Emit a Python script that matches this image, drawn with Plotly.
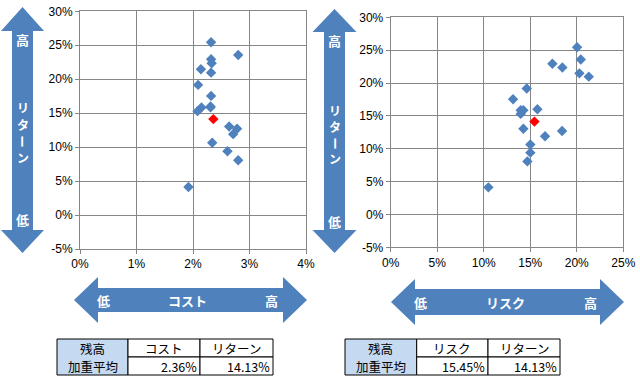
import plotly.graph_objects as go

# ---- data (percent) ----
returns = [25.44, 23.57, 22.94, 22.35, 21.47, 20.97, 19.16, 17.54, 16.00, 15.85,
           15.85, 15.30, 13.03, 12.70, 11.91, 10.65, 9.40, 8.07, 4.12]
costs = [2.32, 2.80, 2.32, 2.33, 2.14, 2.32, 2.09, 2.32, 2.31, 2.15,
         2.31, 2.08, 2.64, 2.78, 2.71, 2.34, 2.61, 2.80, 1.92]
risks = [20.03, 20.43, 17.38, 18.45, 20.28, 21.29, 14.62, 13.15, 15.77, 14.26,
         13.97, 13.97, 14.26, 18.42, 16.59, 15.01, 15.01, 14.69, 10.50]
avg_cost = 2.36
avg_risk = 15.45
avg_return = 14.13

cost_ticks = [0, 1, 2, 3, 4]
risk_ticks = [0, 5, 10, 15, 20, 25]
return_ticks = [-5, 0, 5, 10, 15, 20, 25, 30]

W, H = 640, 381
BLUE = "#4F81BD"
GRID = "#868686"
FONT = "Noto Sans CJK JP"


def P(x, y):
    return x / W, 1 - y / H


def path_from(pts):
    s = ""
    for i, (x, y) in enumerate(pts):
        px, py = P(x, y)
        s += ("M" if i == 0 else "L") + f"{px:.5f},{py:.5f} "
    return s + "Z"


def varrow(cx, t, hb1, hb2, b, sw, hw):
    return path_from([(cx, t), (cx + hw, hb1), (cx + sw, hb1), (cx + sw, hb2), (cx + hw, hb2),
                      (cx, b), (cx - hw, hb2), (cx - sw, hb2), (cx - sw, hb1), (cx - hw, hb1)])


def harrow(cy, l, hb1, hb2, r, sw, hw):
    return path_from([(l, cy), (hb1, cy - hw), (hb1, cy - sw), (hb2, cy - sw), (hb2, cy - hw),
                      (r, cy), (hb2, cy + hw), (hb2, cy + sw), (hb1, cy + sw), (hb1, cy + hw)])


fig = go.Figure()
fig.add_trace(go.Scatter(x=costs, y=returns, mode="markers", xaxis="x", yaxis="y",
                         marker=dict(symbol="diamond", size=8, color=BLUE), showlegend=False))
fig.add_trace(go.Scatter(x=[avg_cost], y=[avg_return], mode="markers", xaxis="x", yaxis="y",
                         marker=dict(symbol="diamond", size=8, color="#FF0000"), showlegend=False))
fig.add_trace(go.Scatter(x=risks, y=returns, mode="markers", xaxis="x2", yaxis="y2",
                         marker=dict(symbol="diamond", size=8, color=BLUE), showlegend=False))
fig.add_trace(go.Scatter(x=[avg_risk], y=[avg_return], mode="markers", xaxis="x2", yaxis="y2",
                         marker=dict(symbol="diamond", size=8, color="#FF0000"), showlegend=False))

axcommon = dict(showgrid=True, gridcolor=GRID, gridwidth=1, showline=True, linecolor=GRID,
                linewidth=1, mirror=True, zeroline=False, ticks="outside", ticklen=4,
                tickcolor=GRID, tickmode="array", automargin=False,
                tickfont=dict(family="Liberation Sans", size=12, color="#000"))


def pct(ticks):
    return [f"{t}%" for t in ticks]


fig.update_layout(
    width=W, height=H, autosize=False,
    margin=dict(l=0, r=0, t=0, b=0),
    paper_bgcolor="white", plot_bgcolor="white",
    xaxis=dict(domain=[80 / W, 306 / W], range=[0, 4], tickvals=cost_ticks,
               ticktext=pct(cost_ticks), anchor="y", **axcommon),
    yaxis=dict(domain=[1 - 249 / H, 1 - 11.3 / H], range=[-5, 30], tickvals=return_ticks,
               ticktext=pct(return_ticks), anchor="x", **axcommon),
    xaxis2=dict(domain=[390.7 / W, 623.3 / W], range=[0, 25], tickvals=risk_ticks,
                ticktext=pct(risk_ticks), anchor="y2", **axcommon),
    yaxis2=dict(domain=[1 - 247.3 / H, 1 - 17.3 / H], range=[-5, 30], tickvals=return_ticks,
                ticktext=pct(return_ticks), anchor="x2", **axcommon),
)

shapes = []
for pth in [varrow(22.5, 7, 31, 230, 253, 10.5, 21.5),
            varrow(334.5, 9, 32, 230, 253, 10.5, 22),
            harrow(300, 74, 98, 283, 307, 12, 23),
            harrow(302, 391, 415, 600, 624, 13, 23)]:
    shapes.append(dict(type="path", path=pth, xref="paper", yref="paper",
                       fillcolor=BLUE, line=dict(width=0), layer="below"))

annotations = []


def txt(x, y, s, size=13, color="white", bold=True, xanchor="center", angle=0, pad=1):
    px, py = P(x, y)
    annotations.append(dict(x=px, y=py, xref="paper", yref="paper", text=(f"<b>{s}</b>" if bold else s),
                            showarrow=False, xanchor=xanchor, yanchor="middle", textangle=angle,
                            borderpad=pad, font=dict(family=FONT, size=size, color=color)))


# vertical arrow labels
for cx, dy in [(22.5, 0), (334.5, 2)]:
    txt(cx, 39 + dy, "高")
    txt(cx, 108 + dy, "リ", size=12, pad=0)
    txt(cx, 124.5 + dy, "タ", size=12, pad=0)
    txt(cx, 141 + dy, "ー", size=12, pad=0, angle=90)
    txt(cx, 157 + dy, "ン", size=12, pad=0)
    txt(cx, 219 + dy, "低")

# horizontal arrow labels
txt(103, 300, "低")
txt(187, 300, "コスト")
txt(271, 300, "高")
txt(420, 302, "低")
txt(505, 302, "リスク")
txt(590, 302, "高")


def table(x0, x1, x2, x3, head1, head2, v1, v2):
    y0, ym, y1 = 339, 357, 375

    def rect(a, b, c, d, fill="white"):
        pa = P(a, b)
        pb = P(c, d)
        shapes.append(dict(type="rect", xref="paper", yref="paper", x0=pa[0], x1=pb[0],
                           y0=pb[1], y1=pa[1], fillcolor=fill, line=dict(color="black", width=1)))
    rect(x0, y0, x1, y1, "#C5D9F1")
    rect(x1, y0, x2, ym)
    rect(x2, y0, x3, ym)
    rect(x1, ym, x2, y1)
    rect(x2, ym, x3, y1)
    txt((x0 + x1) / 2, 348, "残高", size=12.5, bold=False, color="black", pad=0)
    txt((x0 + x1) / 2, 366, "加重平均", size=12.5, bold=False, color="black", pad=0)
    txt((x1 + x2) / 2, 348, head1, size=12.5, bold=False, color="black", pad=0)
    txt((x2 + x3) / 2, 348, head2, size=12.5, bold=False, color="black", pad=0)
    txt(x2 - 2, 366, v1, size=12.5, bold=False, color="black", xanchor="right", pad=0)
    txt(x3 - 2, 366, v2, size=12.5, bold=False, color="black", xanchor="right", pad=0)


table(57, 128, 200, 273, "コスト", "リターン", f"{avg_cost:.2f}%", f"{avg_return:.2f}%")
table(345, 416.7, 488, 560, "リスク", "リターン", f"{avg_risk:.2f}%", f"{avg_return:.2f}%")

fig.update_layout(shapes=shapes, annotations=annotations)
fig.write_html("out.html", config={"displayModeBar": False},
               post_script="document.body.style.margin='0';")
